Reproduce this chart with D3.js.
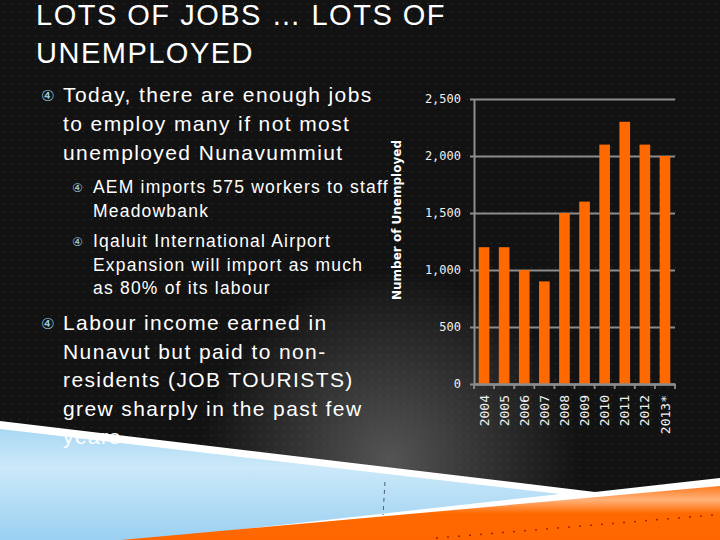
<!DOCTYPE html>
<html>
<head>
<meta charset="utf-8">
<script src="https://cdn.jsdelivr.net/npm/d3@7"></script>
<style>
  body { margin: 0; background: #111; }
  svg { display: block; }
</style>
</head>
<body>
<div id="plot"></div>
<script>
// Chart data
const years = ["2004", "2005", "2006", "2007", "2008", "2009", "2010", "2011", "2012", "2013*"];
const unemployed = [1200, 1200, 1000, 900, 1500, 1600, 2100, 2300, 2100, 2000];
const yTicks = [0, 500, 1000, 1500, 2000, 2500];

const titleLines = ["LOTS OF JOBS … LOTS OF", "UNEMPLOYED"];
const bullet1 = ["Today, there are enough jobs", "to employ many if not most", "unemployed Nunavummiut"];
const subBullet1 = ["AEM imports 575 workers to staff", "Meadowbank"];
const subBullet2 = ["Iqaluit International Airport", "Expansion will import as much", "as 80% of its labour"];
const bullet2 = ["Labour income earned in", "Nunavut but paid to non-", "residents (JOB TOURISTS)", "grew sharply in the past few", "years"];

const width = 720;
const height = 540;

const svg = d3.select("#plot")
  .append("svg")
  .attr("width", width)
  .attr("height", height);

const defs = svg.append("defs");

// dotted background texture
const pat = defs.append("pattern")
  .attr("id", "dots")
  .attr("width", 8)
  .attr("height", 8)
  .attr("patternUnits", "userSpaceOnUse");
pat.append("rect").attr("width", 8).attr("height", 8).attr("fill", "#121212");
pat.append("rect").attr("x", 3).attr("y", 3).attr("width", 1).attr("height", 1).attr("fill", "#3a3a3a");

const glow = defs.append("radialGradient")
  .attr("id", "glow")
  .attr("cx", 390).attr("cy", 460).attr("r", 190)
  .attr("gradientUnits", "userSpaceOnUse");
glow.append("stop").attr("offset", "0%").attr("stop-color", "#6a6a6a").attr("stop-opacity", 0.75);
glow.append("stop").attr("offset", "100%").attr("stop-color", "#6a6a6a").attr("stop-opacity", 0);

const blueGrad = defs.append("linearGradient")
  .attr("id", "blueGrad")
  .attr("x1", 0).attr("y1", 0).attr("x2", 0).attr("y2", 1);
blueGrad.append("stop").attr("offset", "0%").attr("stop-color", "#a9d8f3");
blueGrad.append("stop").attr("offset", "30%").attr("stop-color", "#cbe9f9");
blueGrad.append("stop").attr("offset", "100%").attr("stop-color", "#8fcaef");

const orangeGrad = defs.append("linearGradient")
  .attr("id", "orangeGrad")
  .attr("x1", 0).attr("y1", 0).attr("x2", 0).attr("y2", 1);
orangeGrad.append("stop").attr("offset", "0%").attr("stop-color", "#ff7a1e");
orangeGrad.append("stop").attr("offset", "25%").attr("stop-color", "#ffb27a");
orangeGrad.append("stop").attr("offset", "50%").attr("stop-color", "#ff6a00");
orangeGrad.append("stop").attr("offset", "100%").attr("stop-color", "#ff6600");

svg.append("rect").attr("width", width).attr("height", height).attr("fill", "url(#dots)");
svg.append("rect").attr("width", width).attr("height", height).attr("fill", "url(#glow)");

// Bottom decoration
const line = d3.line();
svg.append("path")
  .attr("d", line([[0, 421], [595, 492], [720, 478], [720, 540], [0, 540]]) + "Z")
  .attr("fill", "#ffffff");
svg.append("path")
  .attr("d", line([[0, 429], [560, 494], [0, 556]]) + "Z")
  .attr("fill", "url(#blueGrad)");
svg.append("path")
  .attr("d", line([[720, 486], [720, 541], [110, 541]]) + "Z")
  .attr("fill", "url(#orangeGrad)");

// dashed vertical mark and dotted trail
svg.append("line")
  .attr("x1", 385).attr("y1", 482).attr("x2", 383).attr("y2", 515)
  .attr("stroke", "#4a6070").attr("stroke-width", 1)
  .attr("stroke-dasharray", "4,4");

const trail = d3.range(0, 26).map(i => [437 + i * 11, 538 - i * 11 * 0.083]);
svg.selectAll("circle.trail")
  .data(trail)
  .enter().append("circle")
  .attr("class", "trail")
  .attr("cx", d => d[0])
  .attr("cy", d => d[1])
  .attr("r", 0.9)
  .attr("fill", "#8a1a00");

// Title
svg.selectAll("text.title")
  .data(titleLines)
  .enter().append("text")
  .attr("class", "title")
  .attr("x", 36)
  .attr("y", (d, i) => 25 + i * 38)
  .text(d => d)
  .style("font-family", "'Liberation Sans', Arial, sans-serif")
  .style("font-size", "29px")
  .style("letter-spacing", "1.5px")
  .style("fill", "#ffffff");

// Bulleted text
function block(lines, x, y0, lh, size, spacing, bx, bsize) {
  svg.append("text")
    .attr("x", bx)
    .attr("y", y0 - 1)
    .text("④")
    .style("font-family", "'DejaVu Sans', sans-serif")
    .style("font-size", bsize + "px")
    .style("fill", "#9fd2e6");
  svg.append("g").selectAll("text")
    .data(lines)
    .enter().append("text")
    .attr("x", x)
    .attr("y", (d, i) => y0 + i * lh)
    .text(d => d)
    .style("font-family", "'Liberation Sans', Arial, sans-serif")
    .style("font-size", size + "px")
    .style("letter-spacing", spacing + "px")
    .style("fill", "#ffffff");
}

block(bullet1, 63, 102, 29, 21, 1.4, 41, 15);
block(subBullet1, 93, 193, 23.5, 17.5, 1.2, 72, 12);
block(subBullet2, 93, 247, 23.5, 17.5, 1.2, 72, 12);
block(bullet2, 63, 330, 28.5, 21, 1.4, 41, 15);

// Chart
const x = d3.scaleBand()
  .domain(years)
  .range([474, 675])
  .paddingInner(0.47)
  .paddingOuter(0.235);

const y = d3.scaleLinear()
  .domain([0, 2500])
  .range([384, 99]);

const yAxis = svg.append("g")
  .attr("transform", "translate(474,0)")
  .call(d3.axisLeft(y)
    .tickValues(yTicks)
    .tickFormat(d3.format(","))
    .tickSizeInner(-201)
    .tickSizeOuter(0)
    .tickPadding(13));

yAxis.select(".domain").attr("stroke", "#8c8c8c").attr("stroke-width", 2);
yAxis.selectAll(".tick line")
  .attr("x1", -4)
  .attr("stroke", "#8c8c8c")
  .attr("stroke-width", 1.8);
yAxis.selectAll(".tick text")
  .style("font-family", "'DejaVu Sans Mono', monospace")
  .style("font-size", "12px")
  .style("fill", "#f0f0f0");

// bars
svg.selectAll("rect.bar")
  .data(unemployed)
  .enter().append("rect")
  .attr("class", "bar")
  .attr("x", (d, i) => x(years[i]))
  .attr("y", d => y(d))
  .attr("width", x.bandwidth())
  .attr("height", d => y(0) - y(d))
  .attr("fill", "#ff6a00");

// x axis
const xAxis = svg.append("g")
  .attr("transform", "translate(0,384)")
  .call(d3.axisBottom(x).tickSize(0).tickSizeOuter(0));

xAxis.select(".domain").attr("stroke", "#8c8c8c").attr("stroke-width", 2.5);
xAxis.selectAll(".tick text")
  .attr("transform", "translate(0,11) rotate(-90)")
  .attr("x", 0)
  .attr("y", 0)
  .attr("dy", "0.35em")
  .attr("text-anchor", "end")
  .style("font-family", "'DejaVu Sans Mono', monospace")
  .style("font-size", "13px")
  .style("fill", "#f0f0f0");

const half = (x.step() - x.bandwidth()) / 2;
const boundaries = years.map(d => x(d) - half).concat([675]);
xAxis.selectAll("line.sep")
  .data(boundaries)
  .enter().append("line")
  .attr("class", "sep")
  .attr("x1", d => d).attr("x2", d => d)
  .attr("y1", 0).attr("y2", 5)
  .attr("stroke", "#8c8c8c")
  .attr("stroke-width", 1.8);

// axis title
svg.append("text")
  .attr("transform", "translate(401,220) rotate(-90)")
  .attr("text-anchor", "middle")
  .text("Number of Unemployed")
  .style("font-family", "'DejaVu Sans', sans-serif")
  .style("font-weight", "bold")
  .style("font-size", "12px")
  .style("fill", "#ffffff");
</script>
</body>
</html>
